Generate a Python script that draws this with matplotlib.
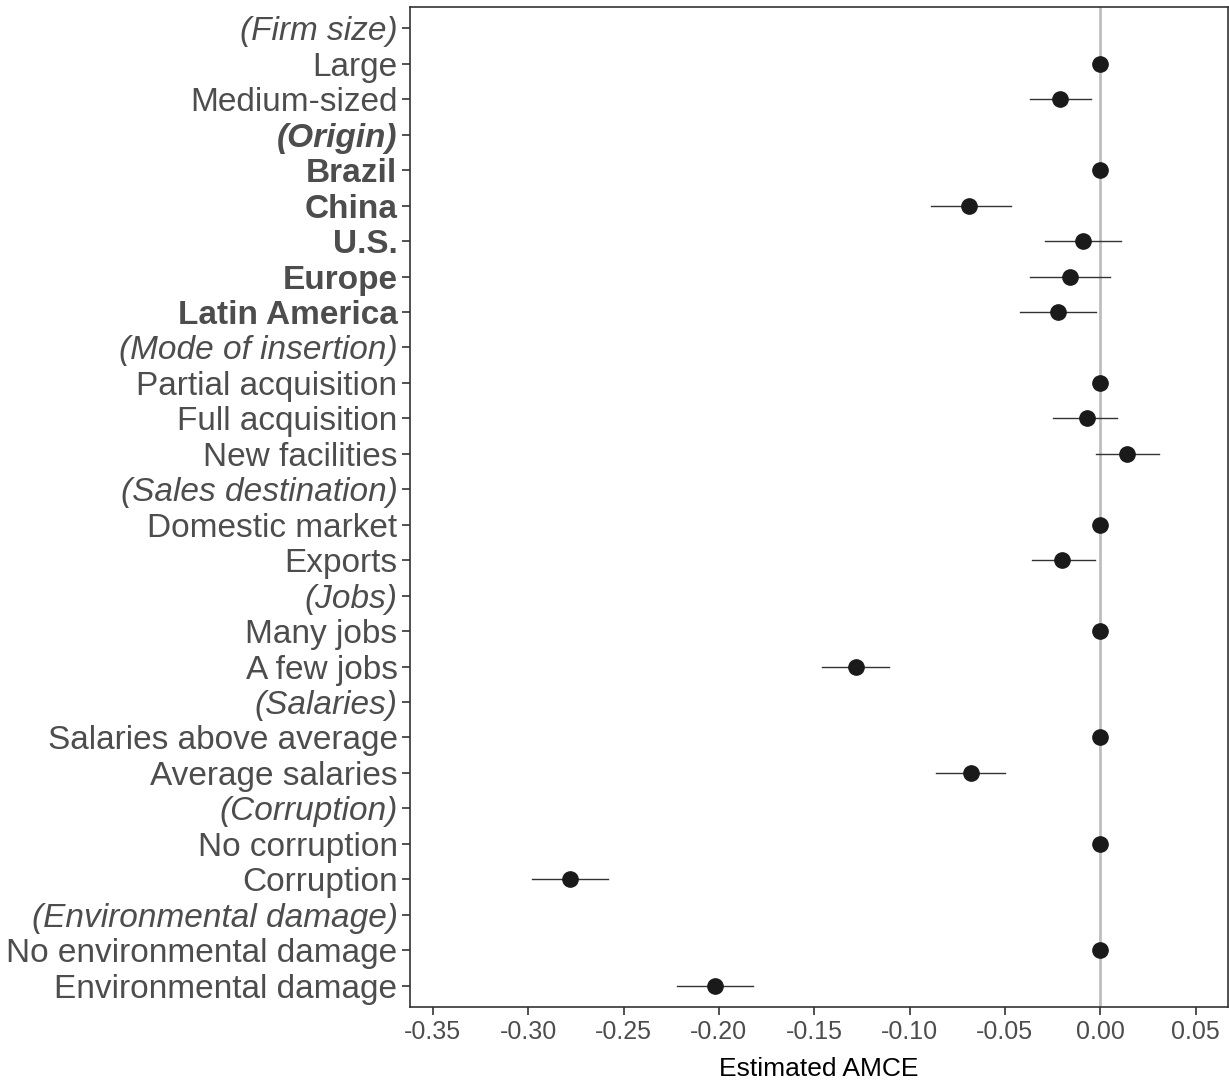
import matplotlib.pyplot as plt
import numpy as np

plt.rcParams['font.family'] = ['Liberation Sans', 'DejaVu Sans']

labels = ["(Firm size)", "Large", "Medium-sized",
          "(Origin)", "Brazil", "China", "U.S.", "Europe", "Latin America",
          "(Mode of insertion)", "Partial acquisition", "Full acquisition", "New facilities",
          "(Sales destination)", "Domestic market", "Exports",
          "(Jobs)", "Many jobs", "A few jobs",
          "(Salaries)", "Salaries above average", "Average salaries",
          "(Corruption)", "No corruption", "Corruption",
          "(Environmental damage)", "No environmental damage", "Environmental damage"]

# estimates (None for header rows)
est = [None, 0.0, -0.021,
       None, 0.0, -0.069, -0.009, -0.016, -0.022,
       None, 0.0, -0.007, 0.014,
       None, 0.0, -0.020,
       None, 0.0, -0.128,
       None, 0.0, -0.068,
       None, 0.0, -0.278,
       None, 0.0, -0.202]
lo = [None, 0.0, -0.037,
      None, 0.0, -0.089, -0.029, -0.037, -0.042,
      None, 0.0, -0.025, -0.002,
      None, 0.0, -0.036,
      None, 0.0, -0.146,
      None, 0.0, -0.086,
      None, 0.0, -0.298,
      None, 0.0, -0.222]
hi = [None, 0.0, -0.005,
      None, 0.0, -0.047, 0.011, 0.005, -0.002,
      None, 0.0, 0.009, 0.031,
      None, 0.0, -0.003,
      None, 0.0, -0.111,
      None, 0.0, -0.050,
      None, 0.0, -0.258,
      None, 0.0, -0.182]

bold_rows = ["(Origin)", "Brazil", "China", "U.S.", "Europe", "Latin America"]

fig = plt.figure(figsize=(12.29, 10.81), dpi=100)
ax = fig.add_axes([410 / 1229, 1 - 1007 / 1081, 818 / 1229, 1000 / 1081])

ax.axvline(0, color="#bebebe", lw=2, zorder=1)

y = np.arange(len(labels))
for i in range(len(labels)):
    if est[i] is None:
        continue
    ax.plot([lo[i], hi[i]], [y[i], y[i]], color="#333333", lw=1, zorder=2)
    ax.plot(est[i], y[i], "o", color="#1a1a1a", ms=11, zorder=3)

ax.set_ylim(len(labels) - 0.4, -0.6)
ax.set_xlim(-0.362, 0.067)
ax.set_yticks(y)
ax.set_yticklabels(labels, fontsize=24, color="#4d4d4d")
for t in ax.get_yticklabels():
    txt = t.get_text()
    if txt.startswith("("):
        t.set_style("italic")
    if txt in bold_rows:
        t.set_weight("bold")

xt = [-0.35, -0.30, -0.25, -0.20, -0.15, -0.10, -0.05, 0.00, 0.05]
ax.set_xticks(xt)
ax.set_xticklabels([f"{v:.2f}" for v in xt], fontsize=18, color="#4d4d4d")
ax.set_xlabel("Estimated AMCE", fontsize=19, color="black", labelpad=9)

ax.tick_params(axis="both", color="#333333", length=6, width=1.2)
ax.tick_params(axis="y", pad=3)
for s in ax.spines.values():
    s.set_color("#333333")
    s.set_linewidth(1.2)

fig.savefig("out.png", dpi=100)
